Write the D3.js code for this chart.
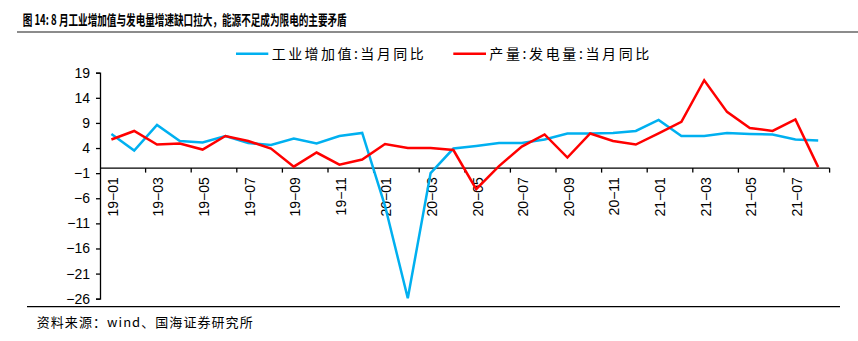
<!DOCTYPE html>
<html><head><meta charset="utf-8">
<script src="https://cdn.jsdelivr.net/npm/d3@7/dist/d3.min.js"></script>
<style>
html,body{margin:0;padding:0;background:#fff;}
svg{display:block;}
</style></head>
<body>
<svg id="chart" width="858" height="341"></svg>
<script>
const months = ["19-01","19-02","19-03","19-04","19-05","19-06","19-07","19-08","19-09","19-10","19-11","19-12",
"20-01","20-02","20-03","20-04","20-05","20-06","20-07","20-08","20-09","20-10","20-11","20-12",
"21-01","21-02","21-03","21-04","21-05","21-06","21-07","21-08"];
const industryVA = [6.8,3.5,8.6,5.4,5.1,6.4,5.0,4.6,5.9,4.9,6.4,7.0,-7.5,-25.9,-1.0,3.9,4.4,5.0,5.0,5.7,6.9,6.9,7.0,7.4,9.6,6.4,6.4,7.0,6.8,6.7,5.7,5.5];
const powerOutput = [5.7,7.4,4.7,4.9,3.7,6.4,5.4,3.9,0.3,3.1,0.7,1.7,4.8,4.0,4.0,3.6,-4.2,0.4,4.3,6.7,2.1,6.9,5.4,4.7,6.9,9.2,17.5,11.2,8.0,7.4,9.7,0.2];
const yTicks = [-26,-21,-16,-11,-6,-1,4,9,14,19];
const seriesNames = ["工业增加值:当月同比","产量:发电量:当月同比"];
const titleText = "图 14:  8 月工业增加值与发电量增速缺口拉大，能源不足成为限电的主要矛盾";
const sourceText = "资料来源：wind、国海证券研究所";

const svg = d3.select("#chart");
const latin = "'Liberation Sans', Arial, 'Noto Sans CJK SC', sans-serif";
const cjk = "'Noto Sans CJK SC', 'Liberation Sans', sans-serif";

// title
svg.append("text").attr("x",22.7).attr("y",24.5)
  .attr("font-family",cjk).attr("font-size",14).attr("font-weight","bold").attr("fill","#000")
  .attr("textLength",324).attr("lengthAdjust","spacingAndGlyphs").text(titleText);
svg.append("line").attr("x1",17).attr("x2",858).attr("y1",32).attr("y2",32)
  .attr("stroke","#8c8c8c").attr("stroke-width",2);

// scales
const x = d3.scaleBand().domain(months).range([100,829.6]).padding(0);
const y = d3.scaleLinear().domain([-26,19]).range([298.7,72.7]);
const cx = m => x(m) + x.bandwidth()/2;

// y axis
const yAxis = d3.axisLeft(y).tickValues(yTicks).tickSize(4).tickPadding(6)
  .tickFormat(d => d < 0 ? "\u2212" + Math.abs(d) : d);
const gy = svg.append("g").attr("transform","translate(100,0)").call(yAxis);
gy.select(".domain").attr("stroke","#000").attr("stroke-width",1.3);
gy.selectAll(".tick line").attr("stroke","#000").attr("stroke-width",1.3);
gy.selectAll(".tick text").attr("font-family",latin).attr("font-size",14).attr("fill","#000");

// x axis at zero
const y0 = y(0);
const gx = svg.append("g");
gx.append("line").attr("x1",x.range()[0]).attr("x2",x.range()[1]).attr("y1",y0).attr("y2",y0)
  .attr("stroke","#000").attr("stroke-width",1.3);
const tickPos = months.map((m,i)=>i).filter(i=>i%2===0 && i>0).map(i=>x(months[i])).concat([x.range()[1]]);
gx.selectAll("line.tk").data(tickPos).enter().append("line").attr("class","tk")
  .attr("x1",d=>d).attr("x2",d=>d).attr("y1",y0).attr("y2",y0+4.5)
  .attr("stroke","#000").attr("stroke-width",1.3);
gx.selectAll("text.lb").data(months.filter((m,i)=>i%2===0)).enter().append("text").attr("class","lb")
  .attr("transform",d=>`translate(${cx(d)+1.5},${y0+9}) rotate(-90)`)
  .attr("text-anchor","end").attr("dy","0.35em")
  .attr("font-family",latin).attr("font-size",14).attr("fill","#000")
  .text(d=>d.replace("-","\u2212"));

// lines
const line = d3.line().x((d,i)=>cx(months[i])).y(d=>y(d));
svg.append("path").datum(industryVA).attr("d",line).attr("fill","none")
  .attr("stroke","#00B0F0").attr("stroke-width",2.5).attr("stroke-linejoin","miter");
svg.append("path").datum(powerOutput).attr("d",line).attr("fill","none")
  .attr("stroke","#FF0000").attr("stroke-width",2.5).attr("stroke-linejoin","miter");

// legend
const legend = [
  {name:seriesNames[0], color:"#00B0F0", x1:236, x2:268.3, tx:271.7, tl:152},
  {name:seriesNames[1], color:"#FF0000", x1:453.3, x2:486, tx:489.3, tl:160}
];
legend.forEach(l=>{
  svg.append("line").attr("x1",l.x1).attr("x2",l.x2).attr("y1",53.7).attr("y2",53.7)
    .attr("stroke",l.color).attr("stroke-width",2.5);
  svg.append("text").attr("x",l.tx).attr("y",58.5)
    .attr("font-family",cjk).attr("font-size",14).attr("fill","#000")
    .attr("textLength",l.tl).attr("lengthAdjust","spacing").text(l.name);
});

// bottom rule and source
svg.append("line").attr("x1",27).attr("x2",840).attr("y1",306.7).attr("y2",306.7)
  .attr("stroke","#000").attr("stroke-width",1.2);
svg.append("text").attr("x",36.7).attr("y",326.5)
  .attr("font-family",cjk).attr("font-size",13).attr("fill","#000")
  .attr("textLength",216).attr("lengthAdjust","spacing").text(sourceText);
</script>
</body></html>
